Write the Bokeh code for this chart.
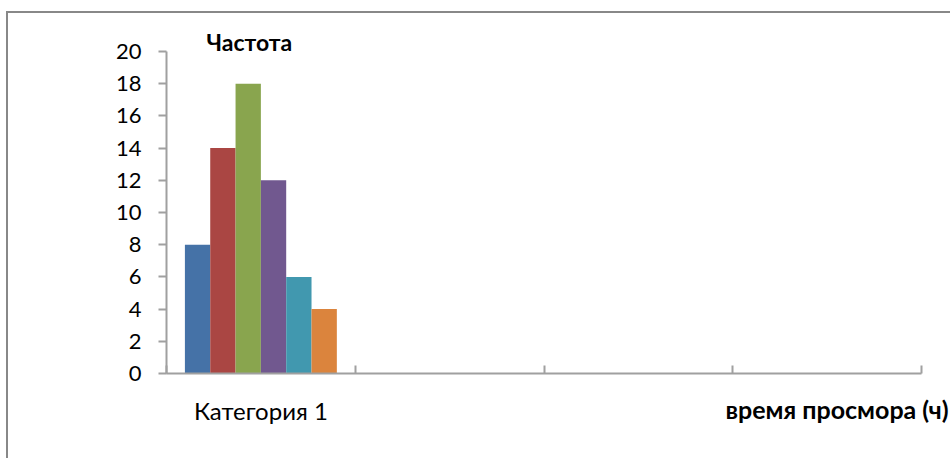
from bokeh.plotting import figure
from bokeh.models import FixedTicker, LinearAxis, Range1d, Title
from bokeh.embed import file_html
from bokeh.resources import INLINE

# Data
categories = ["Категория 1", "", "", ""]
series_values = [8, 14, 18, 12, 6, 4]
series_colors = ["#4572A7", "#AA4643", "#89A54E", "#71588F", "#4198AF", "#DB843D"]
y_ticks = [0, 2, 4, 6, 8, 10, 12, 14, 16, 18, 20]
y_title = "Частота"
x_title = "время просмора (ч)"

# page offset of the chart canvas (margin + 2px border)
OX, OY = 8, 13
W, H = 952 - OX, 460 - OY
FRAME_L, FRAME_R, FRAME_T, FRAME_B = 166 - OX, 921 - OX, 51 - OY, 373 - OY
FONT = "Lato"
AXIS_GRAY = "#A0A0A0"

p = figure(width=W, height=H, output_backend="svg", toolbar_location=None,
           x_range=Range1d(0, len(categories)), y_range=Range1d(0, 20),
           x_axis_type=None, y_axis_type=None,
           min_border_left=FRAME_L, min_border_right=W - FRAME_R,
           min_border_top=FRAME_T, min_border_bottom=H - FRAME_B)
p.margin = (11, 0, 0, 6)
p.styles = {"border-top": "2px solid #888888", "border-left": "2px solid #888888"}
p.outline_line_color = None
p.xgrid.visible = False
p.ygrid.visible = False
p.background_fill_color = "white"
p.border_fill_color = "white"

# clustered bars of the first category
n = len(series_values)
group = 0.805
bw = group / n
xs = [0.5 + (i - (n - 1) / 2) * bw for i in range(n)]
p.vbar(x=xs, top=series_values, width=bw, bottom=0,
       fill_color=series_colors, line_color=None)

# value axis
yax = LinearAxis(ticker=FixedTicker(ticks=y_ticks))
yax.axis_line_color = AXIS_GRAY
yax.axis_line_width = 2
yax.major_tick_line_color = AXIS_GRAY
yax.major_tick_line_width = 2
yax.major_tick_in = 0
yax.major_tick_out = 8
yax.minor_tick_line_color = None
yax.major_label_text_font = FONT
yax.major_label_text_font_size = "22px"
yax.major_label_text_color = "black"
yax.major_label_standoff = 17
p.add_layout(yax, "left")

# category axis: labels at category centres, tick marks at boundaries
centers = [i + 0.5 for i in range(len(categories))]
xax = LinearAxis(ticker=FixedTicker(ticks=centers,
                                    minor_ticks=list(range(len(categories) + 1))))
xax.major_label_overrides = {c: name for c, name in zip(centers, categories)}
xax.axis_line_color = AXIS_GRAY
xax.axis_line_width = 2
xax.major_tick_line_color = None
xax.major_tick_in = 0
xax.major_tick_out = 0
xax.minor_tick_line_color = AXIS_GRAY
xax.minor_tick_line_width = 2
xax.minor_tick_in = 8
xax.minor_tick_out = 0
xax.major_label_text_font = FONT
xax.major_label_text_font_size = "24px"
xax.major_label_text_color = "black"
xax.major_label_standoff = 22
p.add_layout(xax, "below")

# axis titles
p.add_layout(Title(text=y_title, align="left", offset=206 - 166, standoff=-8,
                   text_font=FONT, text_font_style="bold",
                   text_font_size="23px", text_color="black"), "above")
p.add_layout(Title(text=x_title, align="left", offset=725 - 166, standoff=-68,
                   vertical_align="top",
                   text_font=FONT, text_font_style="bold",
                   text_font_size="25px", text_color="black"), "below")

open("out.html", "w").write(file_html(p, INLINE))
